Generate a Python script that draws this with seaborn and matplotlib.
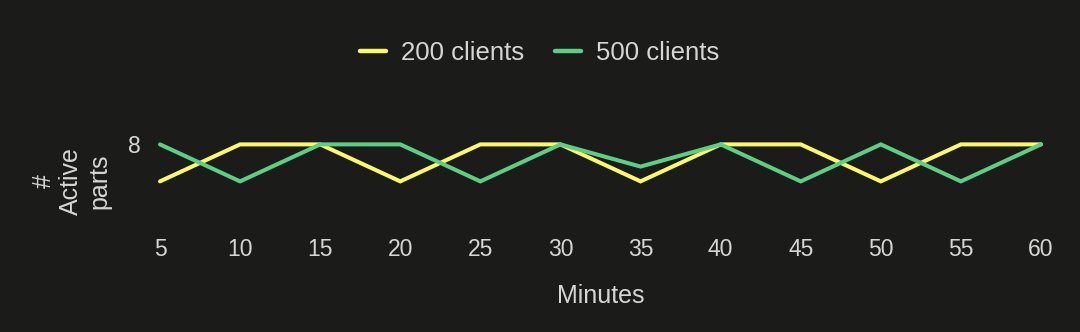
import numpy as np
import pandas as pd
import matplotlib
matplotlib.use("Agg")
import matplotlib.pyplot as plt
import seaborn as sns
from matplotlib.lines import Line2D

minutes = [5, 10, 15, 20, 25, 30, 35, 40, 45, 50, 55, 60]
clients_200 = [7, 8, 8, 7, 8, 8, 7, 8, 8, 7, 8, 8]
clients_500 = [8, 7, 8, 8, 7, 8, 7.4, 8, 7, 8, 7, 8]
series_names = ["200 clients", "500 clients"]
colors = ["#fcf86a", "#5ccf85"]
y_ticks = [8]

df = pd.DataFrame({
    "Minutes": minutes * 2,
    "parts": clients_200 + clients_500,
    "series": [series_names[0]] * len(minutes) + [series_names[1]] * len(minutes),
})

bg = "#1b1b19"
fg = "#d6d6d6"
sns.set_theme(style="dark")
plt.rcParams["font.family"] = ["Liberation Sans", "DejaVu Sans"]

fig = plt.figure(figsize=(10.8, 3.32), dpi=100, facecolor=bg)
W, H = 1080, 332
left, right, top, bottom = 160, 1041, 127, 235
ax = fig.add_axes([left / W, 1 - bottom / H, (right - left) / W, (bottom - top) / H])
ax.set_facecolor(bg)

sns.lineplot(data=df, x="Minutes", y="parts", hue="series", palette=colors,
             linewidth=2.9, ax=ax, legend=False)
for ln in ax.lines:
    ln.set_clip_on(False)
    ln.set_solid_joinstyle("miter")

ax.set_xlim(5, 60)
ax.set_ylim(5.55, 8.47)
ax.set_xticks(minutes)
ax.set_yticks(y_ticks)
ax.tick_params(axis="x", length=0, pad=2, labelsize=16.5, colors=fg)
ax.tick_params(axis="y", length=0, pad=14, labelsize=16.5, colors=fg)
for s in ax.spines.values():
    s.set_visible(False)
ax.grid(False)

ax.set_xlabel("Minutes", fontsize=18, color=fg, labelpad=17)
ax.set_ylabel("#\nActive\nparts", fontsize=18, color=fg, labelpad=12, linespacing=1.2)

handles = [Line2D([0], [0], color=c, lw=3.2) for c in colors]
leg = fig.legend(handles, series_names, loc="center", bbox_to_anchor=(0.5, 1 - 53 / H),
                 ncol=2, frameon=False, fontsize=18.5, handlelength=1.0,
                 handletextpad=0.6, columnspacing=1.2)
for t in leg.get_texts():
    t.set_color(fg)

fig.savefig("out.png", dpi=100, facecolor=bg)
